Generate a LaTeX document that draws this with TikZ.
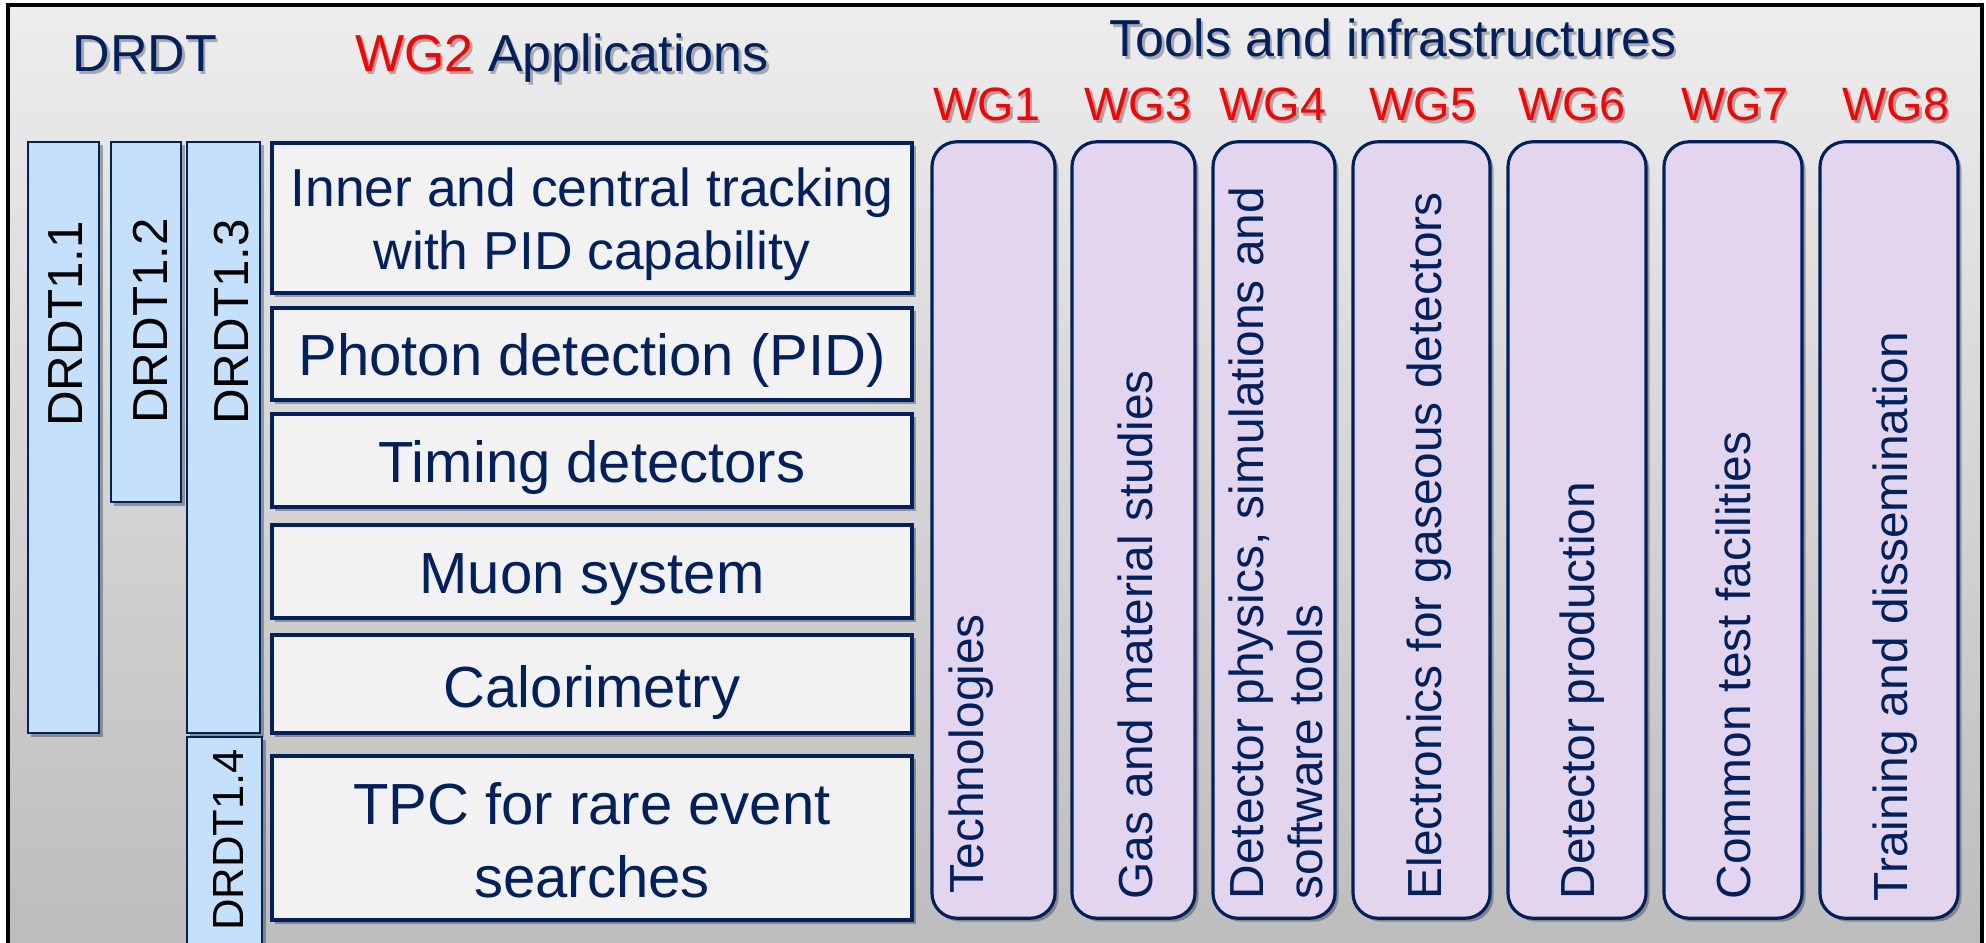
\documentclass[tikz,border=0pt]{standalone}
\usepackage{fontspec}
\setmainfont{Liberation Sans}
\usetikzlibrary{shadows}
\definecolor{navy}{HTML}{002060}
\definecolor{wgred}{HTML}{FF0000}
\definecolor{drdtfill}{HTML}{C4E0FA}
\definecolor{appfill}{HTML}{F2F2F2}
\definecolor{wgfill}{HTML}{E3D5EE}
\definecolor{bgtop}{HTML}{EDEDED}
\definecolor{bgbot}{HTML}{BBBBBB}
\tikzset{
 shad/.style={drop shadow={shadow xshift=0.035cm, shadow yshift=-0.035cm, opacity=0.3, fill=black}},
 drdtbox/.style={draw=navy, fill=drdtfill, line width=0.6pt, inner sep=0pt, shad},
 appbox/.style={draw=navy, fill=appfill, line width=1.1pt, inner sep=0pt, shad},
 wgbox/.style={draw=navy, fill=wgfill, line width=0.9pt, rounded corners=0.25cm, inner sep=0pt, shad},
 headfont/.style={inner sep=0pt, anchor=base, font=\fontsize{14.8}{17}\selectfont},
 head/.style={headfont, text=navy},
 wgfont/.style={inner sep=0pt, anchor=base, font=\fontsize{13.3}{16}\selectfont},
 wglab/.style={wgfont, text=wgred},
 txtshadow/.style={text=black, opacity=0.28, xshift=0.025cm, yshift=-0.025cm},
 apptext/.style={inner sep=0pt, anchor=base, text=navy, font=\fontsize{16.5}{19}\selectfont},
 apptextsmall/.style={inner sep=0pt, anchor=base, text=navy, font=\fontsize{15.2}{18}\selectfont},
 vtext/.style={inner sep=0pt, anchor=base west, rotate=90, text=navy, font=\fontsize{13.6}{16}\selectfont},
 drdttext/.style={inner sep=0pt, anchor=base, rotate=90, text=black, font=\fontsize{14}{16}\selectfont},
}
\begin{document}
\begin{tikzpicture}[x=0.01cm, y=-0.01cm]
\useasboundingbox (0,0) rectangle (1986,943);
\clip (0,0) rectangle (1986,943);
% background panel
\shade[top color=bgtop, bottom color=bgbot] (8,5) rectangle (1982,975);
\draw[black, line width=0.9pt] (8,975) -- (8,5) -- (1982,5) -- (1982,975);

% headers (with soft text shadow)
\node[headfont, txtshadow] (hdrdts) at (145,72) {DRDT};
\node[headfont, txtshadow] (happs) at (562,72) {WG2 Applications};
\node[headfont, txtshadow] (htoolss) at (1393,57) {Tools and infrastructures};
\node[head] (hdrdt) at (145,72) {DRDT};
\node[head] (happ) at (562,72) {{\color{wgred}WG2} Applications};
\node[head] (htools) at (1393,57) {Tools and infrastructures};

% DRDT boxes
\node[drdtbox, minimum width=0.71cm, minimum height=5.91cm] (drdt11) at (63.5,437.5) {};
\node[drdtbox, minimum width=0.70cm, minimum height=3.60cm] (drdt12) at (146,322) {};
\node[drdtbox, minimum width=0.73cm, minimum height=5.91cm] (drdt13) at (223.5,437.5) {};
\node[drdtbox, minimum width=0.75cm, minimum height=2.30cm] (drdt14) at (224.5,852) {};
\node[drdttext] (tdrdt11) at (82,324) {DRDT1.1};
\node[drdttext] (tdrdt12) at (167,321) {DRDT1.2};
\node[drdttext] (tdrdt13) at (248,322) {DRDT1.3};
\node[drdttext, font=\fontsize{12.4}{15}\selectfont] (tdrdt14) at (243,840) {DRDT1.4};

% application boxes
\node[appbox, minimum width=6.40cm, minimum height=1.50cm] (app1) at (592,218) {};
\node[appbox, minimum width=6.40cm, minimum height=0.92cm] (app2) at (592,354) {};
\node[appbox, minimum width=6.40cm, minimum height=0.93cm] (app3) at (592,460.5) {};
\node[appbox, minimum width=6.40cm, minimum height=0.93cm] (app4) at (592,571.5) {};
\node[appbox, minimum width=6.40cm, minimum height=0.98cm] (app5) at (592,684) {};
\node[appbox, minimum width=6.40cm, minimum height=1.64cm] (app6) at (592,838) {};
\node[apptextsmall] (tapp1a) at (592,207) {Inner and central tracking};
\node[apptextsmall] (tapp1b) at (592,270) {with PID capability};
\node[apptext] (tapp2) at (592,376) {Photon detection (PID)};
\node[apptext] (tapp3) at (592,482) {Timing detectors};
\node[apptext] (tapp4) at (592,593) {Muon system};
\node[apptext] (tapp5) at (592,707) {Calorimetry};
\node[apptext] (tapp6a) at (592,824) {TPC for rare event};
\node[apptext] (tapp6b) at (592,897) {searches};

% WG labels (with soft text shadow)
\node[wgfont, txtshadow] (lwg1s) at (987,121) {WG1};
\node[wgfont, txtshadow] (lwg3s) at (1138,121) {WG3};
\node[wgfont, txtshadow] (lwg4s) at (1273,121) {WG4};
\node[wgfont, txtshadow] (lwg5s) at (1423,121) {WG5};
\node[wgfont, txtshadow] (lwg6s) at (1572,121) {WG6};
\node[wgfont, txtshadow] (lwg7s) at (1735,121) {WG7};
\node[wgfont, txtshadow] (lwg8s) at (1896,121) {WG8};
\node[wglab] (lwg1) at (987,121) {WG1};
\node[wglab] (lwg3) at (1138,121) {WG3};
\node[wglab] (lwg4) at (1273,121) {WG4};
\node[wglab] (lwg5) at (1423,121) {WG5};
\node[wglab] (lwg6) at (1572,121) {WG6};
\node[wglab] (lwg7) at (1735,121) {WG7};
\node[wglab] (lwg8) at (1896,121) {WG8};

% WG boxes
\node[wgbox, minimum width=1.23cm, minimum height=7.76cm] (wg1) at (993.5,530) {};
\node[wgbox, minimum width=1.23cm, minimum height=7.76cm] (wg3) at (1133.5,530) {};
\node[wgbox, minimum width=1.22cm, minimum height=7.76cm] (wg4) at (1274,530) {};
\node[wgbox, minimum width=1.37cm, minimum height=7.76cm] (wg5) at (1421.5,530) {};
\node[wgbox, minimum width=1.38cm, minimum height=7.76cm] (wg6) at (1577,530) {};
\node[wgbox, minimum width=1.38cm, minimum height=7.76cm] (wg7) at (1733,530) {};
\node[wgbox, minimum width=1.38cm, minimum height=7.76cm] (wg8) at (1889,530) {};
\node[vtext] (twg1) at (983,894) {Technologies};
\node[vtext] (twg3) at (1152,900) {Gas and material studies};
\node[vtext] (twg4a) at (1263,900) {Detector physics, simulations and};
\node[vtext] (twg4b) at (1322,900) {software tools};
\node[vtext] (twg5) at (1441,900) {Electronics for gaseous detectors};
\node[vtext] (twg6) at (1594,900) {Detector production};
\node[vtext] (twg7) at (1750,900) {Common test facilities};
\node[vtext] (twg8) at (1907,902) {Training and dissemination};
\end{tikzpicture}
\end{document}
